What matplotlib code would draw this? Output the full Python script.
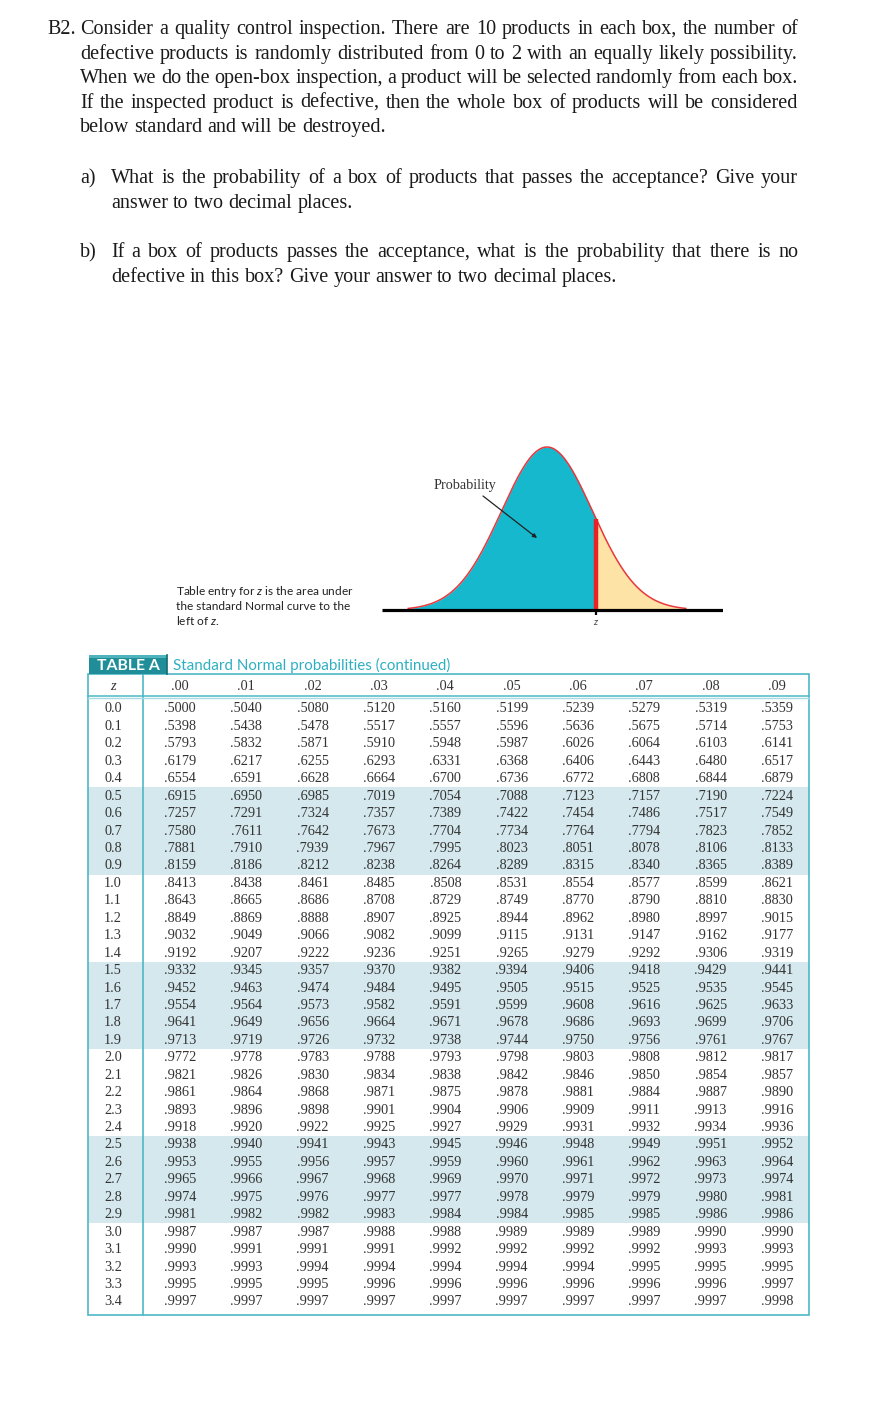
import matplotlib
matplotlib.use('Agg')
import matplotlib.pyplot as plt
import numpy as np
from matplotlib.patches import Rectangle

plt.rcParams['mathtext.fontset'] = 'custom'
plt.rcParams['mathtext.rm'] = 'Lato'
plt.rcParams['mathtext.it'] = 'Lato:italic'

# ---------------- data ----------------
question_lines = [
    "Consider a quality control inspection. There are 10 products in each box, the number of",
    "defective products is randomly distributed from 0 to 2 with an equally likely possibility.",
    "When we do the open-box inspection, a product will be selected randomly from each box.",
    "If the inspected product is defective, then the whole box of products will be considered",
    "below standard and will be destroyed.",
]
part_a = ["What is the probability of a box of products that passes the acceptance? Give your",
          "answer to two decimal places."]
part_b = ["If a box of products passes the acceptance, what is the probability that there is no",
          "defective in this box? Give your answer to two decimal places."]

z_labels = ['0.0', '0.1', '0.2', '0.3', '0.4', '0.5', '0.6', '0.7', '0.8', '0.9',
            '1.0', '1.1', '1.2', '1.3', '1.4', '1.5', '1.6', '1.7', '1.8', '1.9',
            '2.0', '2.1', '2.2', '2.3', '2.4', '2.5', '2.6', '2.7', '2.8', '2.9',
            '3.0', '3.1', '3.2', '3.3', '3.4']
col_labels = ['.00', '.01', '.02', '.03', '.04', '.05', '.06', '.07', '.08', '.09']
table_rows = [
    ".5000 .5040 .5080 .5120 .5160 .5199 .5239 .5279 .5319 .5359",
    ".5398 .5438 .5478 .5517 .5557 .5596 .5636 .5675 .5714 .5753",
    ".5793 .5832 .5871 .5910 .5948 .5987 .6026 .6064 .6103 .6141",
    ".6179 .6217 .6255 .6293 .6331 .6368 .6406 .6443 .6480 .6517",
    ".6554 .6591 .6628 .6664 .6700 .6736 .6772 .6808 .6844 .6879",
    ".6915 .6950 .6985 .7019 .7054 .7088 .7123 .7157 .7190 .7224",
    ".7257 .7291 .7324 .7357 .7389 .7422 .7454 .7486 .7517 .7549",
    ".7580 .7611 .7642 .7673 .7704 .7734 .7764 .7794 .7823 .7852",
    ".7881 .7910 .7939 .7967 .7995 .8023 .8051 .8078 .8106 .8133",
    ".8159 .8186 .8212 .8238 .8264 .8289 .8315 .8340 .8365 .8389",
    ".8413 .8438 .8461 .8485 .8508 .8531 .8554 .8577 .8599 .8621",
    ".8643 .8665 .8686 .8708 .8729 .8749 .8770 .8790 .8810 .8830",
    ".8849 .8869 .8888 .8907 .8925 .8944 .8962 .8980 .8997 .9015",
    ".9032 .9049 .9066 .9082 .9099 .9115 .9131 .9147 .9162 .9177",
    ".9192 .9207 .9222 .9236 .9251 .9265 .9279 .9292 .9306 .9319",
    ".9332 .9345 .9357 .9370 .9382 .9394 .9406 .9418 .9429 .9441",
    ".9452 .9463 .9474 .9484 .9495 .9505 .9515 .9525 .9535 .9545",
    ".9554 .9564 .9573 .9582 .9591 .9599 .9608 .9616 .9625 .9633",
    ".9641 .9649 .9656 .9664 .9671 .9678 .9686 .9693 .9699 .9706",
    ".9713 .9719 .9726 .9732 .9738 .9744 .9750 .9756 .9761 .9767",
    ".9772 .9778 .9783 .9788 .9793 .9798 .9803 .9808 .9812 .9817",
    ".9821 .9826 .9830 .9834 .9838 .9842 .9846 .9850 .9854 .9857",
    ".9861 .9864 .9868 .9871 .9875 .9878 .9881 .9884 .9887 .9890",
    ".9893 .9896 .9898 .9901 .9904 .9906 .9909 .9911 .9913 .9916",
    ".9918 .9920 .9922 .9925 .9927 .9929 .9931 .9932 .9934 .9936",
    ".9938 .9940 .9941 .9943 .9945 .9946 .9948 .9949 .9951 .9952",
    ".9953 .9955 .9956 .9957 .9959 .9960 .9961 .9962 .9963 .9964",
    ".9965 .9966 .9967 .9968 .9969 .9970 .9971 .9972 .9973 .9974",
    ".9974 .9975 .9976 .9977 .9977 .9978 .9979 .9979 .9980 .9981",
    ".9981 .9982 .9982 .9983 .9984 .9984 .9985 .9985 .9986 .9986",
    ".9987 .9987 .9987 .9988 .9988 .9989 .9989 .9989 .9990 .9990",
    ".9990 .9991 .9991 .9991 .9992 .9992 .9992 .9992 .9993 .9993",
    ".9993 .9993 .9994 .9994 .9994 .9994 .9994 .9995 .9995 .9995",
    ".9995 .9995 .9995 .9996 .9996 .9996 .9996 .9996 .9996 .9997",
    ".9997 .9997 .9997 .9997 .9997 .9997 .9997 .9997 .9997 .9998",
]
shaded_groups = [(5, 9), (15, 19), (25, 29)]
z_mark = 1.08

# ---------------- figure ----------------
W, H = 872, 1424
fig = plt.figure(figsize=(W / 100, H / 100), dpi=100)
ax = fig.add_axes([0, 0, 1, 1])
ax.set_xlim(0, W)
ax.set_ylim(H, 0)
ax.axis('off')
ax.set_zorder(3)
renderer = fig.canvas.get_renderer()

SERIF = 'Liberation Serif'
SANS = 'Lato'
TXT = dict(family=SERIF, fontsize=14.5, color='#1a1a1a')


def text_width(s, **kw):
    t = ax.text(0, 0, s, **kw)
    w = t.get_window_extent(renderer).width
    t.remove()
    return w


def justify(line, x0, x1, y, just=True, **kw):
    words = line.split()
    widths = [text_width(w, **kw) for w in words]
    space = text_width('a b', **kw) - text_width('ab', **kw)
    gap = (x1 - x0 - sum(widths)) / (len(words) - 1) if just else space
    x = x0
    for w, wd in zip(words, widths):
        ax.text(x, y, w, ha='left', va='baseline', **kw)
        x += wd + gap


# question text
ax.text(47, 34, "B2.", ha='left', va='baseline', **TXT)
base = [34, 58.6, 83.2, 107.8, 132.4]
for i, line in enumerate(question_lines):
    justify(line, 80, 798, base[i], just=(i < len(question_lines) - 1), **TXT)

ax.text(80, 183, "a)", ha='left', va='baseline', **TXT)
justify(part_a[0], 111, 798, 183, **TXT)
justify(part_a[1], 111, 798, 207.6, just=False, **TXT)
ax.text(80, 257, "b)", ha='left', va='baseline', **TXT)
justify(part_b[0], 111, 798, 257, **TXT)
justify(part_b[1], 111, 798, 281.6, just=False, **TXT)

# ---------------- Normal curve ----------------
x_left_px, x_right_px = 382, 723
base_px, peak_px = 610, 447
mu_px, sig_px = 547, 45.5
top_px, bot_px = 440, 640
zl = (x_left_px - mu_px) / sig_px
zr = (x_right_px - mu_px) / sig_px
pk = 1 / np.sqrt(2 * np.pi)
s = pk / (base_px - peak_px)
cax = fig.add_axes([x_left_px / W, 1 - bot_px / H, (x_right_px - x_left_px) / W, (bot_px - top_px) / H])
cax.set_zorder(1)
cax.set_xlim(zl, zr)
cax.set_ylim(-(bot_px - base_px) * s, pk + (peak_px - top_px) * s)
cax.axis('off')
zz = np.linspace(-3.05, 3.05, 600)
pdf = np.exp(-zz ** 2 / 2) * pk
cax.fill_between(zz, 0, pdf, where=zz <= z_mark, color='#16b8ce', lw=0)
cax.fill_between(zz, 0, pdf, where=zz >= z_mark, color='#fde3a5', lw=0)
cax.plot(zz, pdf, color='#e8383c', lw=1.1)
cax.plot([z_mark, z_mark], [0, np.exp(-z_mark ** 2 / 2) * pk], color='#ea2226', lw=3.2, solid_capstyle='butt')
cax.plot([zl, zr], [0, 0], color='black', lw=2.3, solid_capstyle='butt')
cax.plot([z_mark, z_mark], [0, -5 * s], color='black', lw=1.6, solid_capstyle='butt')

ax.text(465, 486, "Probability", family=SERIF, fontsize=10.2, color='#333333', ha='center', va='center')
ax.annotate("", xy=(537, 538), xytext=(483, 496),
            arrowprops=dict(arrowstyle='-|>', color='#222222', lw=0.9, mutation_scale=6,
                            shrinkA=0, shrinkB=0))
ax.text(596, 622, "$\\mathit{z}$", fontsize=7, color='#444444', ha='center', va='center')

cap = ["Table entry for $\\mathit{z}$ is the area under",
       "the standard Normal curve to the",
       "left of $\\mathit{z}$."]
for i, c in enumerate(cap):
    ax.text(176, 595 + 15 * i, c, family=SANS, fontsize=8.6, color='#222222', ha='left', va='baseline')

# ---------------- table ----------------
TEAL = '#4db8c5'
x_l, x_r = 88, 809
y_top, y_bot = 674, 1315
y_head, y_hline = 686, 697
col_x0, col_dx = 180, 66.33
row_y0, row_dy = 709, 17.44
z_x, z_sep = 113, 143

for a, b in shaded_groups:
    y0 = row_y0 + a * row_dy - row_dy / 2
    y1 = row_y0 + b * row_dy + row_dy / 2
    ax.add_patch(Rectangle((x_l, y0), x_r - x_l, y1 - y0, color='#d5e8ed', lw=0, zorder=0))

ax.add_patch(Rectangle((x_l, y_top), x_r - x_l, y_bot - y_top, fill=False, ec=TEAL, lw=1.2, zorder=3))
ax.plot([z_sep, z_sep], [y_top, y_bot], color=TEAL, lw=1.2, zorder=3)
ax.plot([x_l, x_r], [y_hline - 1, y_hline - 1], color=TEAL, lw=1.1, zorder=3)
ax.plot([x_l, x_r], [y_hline + 1.3, y_hline + 1.3], color='#a8dbe2', lw=1.0, zorder=3)

# TABLE A tag
ax.add_patch(Rectangle((89, 655), 78, 19, color='#1f8e98', lw=0, zorder=4))
ax.add_patch(Rectangle((89, 655), 78, 3, color='#4fb3bc', lw=0, zorder=4))
ax.plot([167, 167], [655, 674], color='#0f6b73', lw=1.2, zorder=5)
ax.text(128, 665.5, "TABLE A", family=SANS, fontweight='bold', fontsize=11.3, color='white',
        ha='center', va='center', zorder=6)
ax.text(173, 665.5, "Standard Normal probabilities (continued)", family=SANS, fontsize=10.9,
        color='#2fb0c2', ha='left', va='center')

NUM = dict(family=SERIF, fontsize=10.3, color='#333333', ha='center', va='center')
ax.text(z_x, y_head, "z", family=SERIF, style='italic', fontsize=10.5, color='#333333', ha='center', va='center')
for j, c in enumerate(col_labels):
    ax.text(col_x0 + j * col_dx, y_head, c, **NUM)
for i, z in enumerate(z_labels):
    yy = row_y0 + i * row_dy
    ax.text(z_x, yy, z, **NUM)
    for j, v in enumerate(table_rows[i].split()):
        ax.text(col_x0 + j * col_dx, yy, v, **NUM)

fig.savefig('out.png', dpi=100, facecolor='white')
